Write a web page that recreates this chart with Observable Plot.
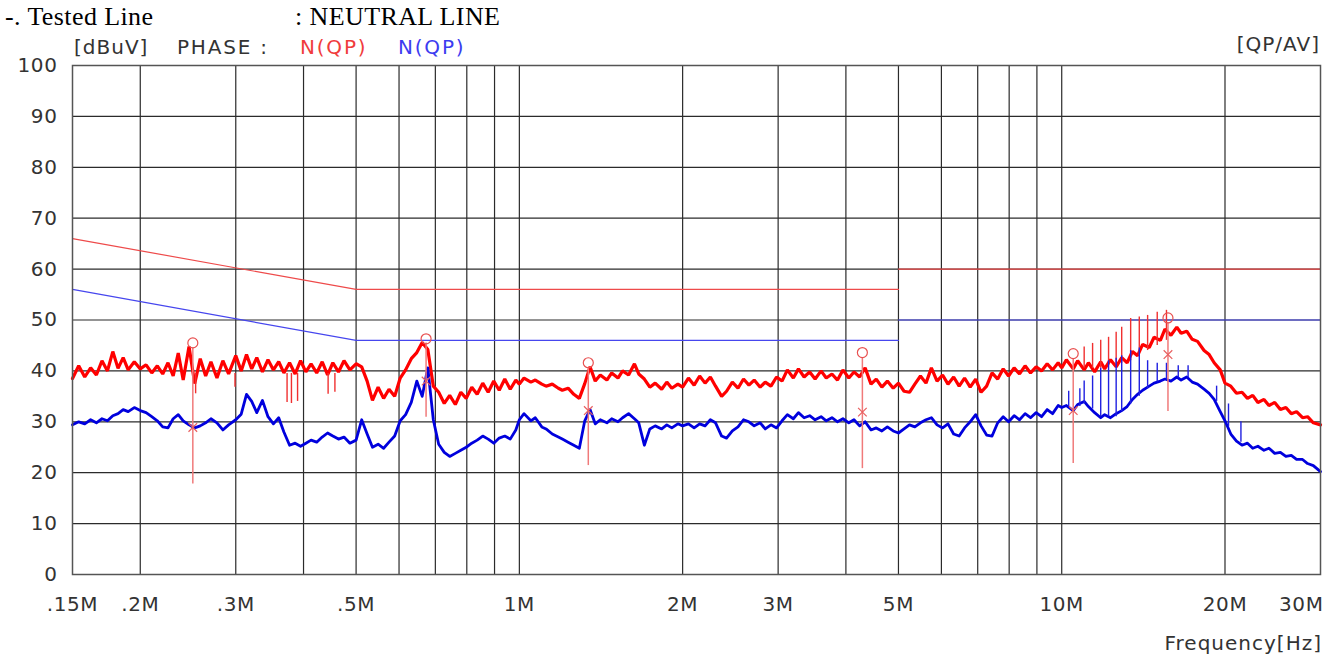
<!DOCTYPE html>
<html><head><meta charset="utf-8">
<script src="https://cdn.jsdelivr.net/npm/d3@7"></script>
<script src="https://cdn.jsdelivr.net/npm/@observablehq/plot@0.6"></script>
<style>
html,body{margin:0;padding:0;background:#fff;width:1338px;height:659px;overflow:hidden;}
#wrap{position:relative;width:1338px;height:659px;}
#chart{position:absolute;left:0;top:0;}
.lbl{position:absolute;white-space:nowrap;line-height:1;}
.serif{font-family:"Liberation Serif","Times New Roman",serif;font-size:26px;color:#000;letter-spacing:0.4px;}
.sans{font-family:"DejaVu Sans",sans-serif;font-size:20px;color:#333;letter-spacing:1px;}
.wide{letter-spacing:1.8px;}
</style></head>
<body><div id="wrap">
<div id="chart"></div>
<div class="lbl serif" style="left:5px;top:4px">-. Tested Line</div>
<div class="lbl serif" style="left:295px;top:4px">: NEUTRAL LINE</div>
<div class="lbl sans" style="left:74px;top:37px">[dBuV]</div>
<div class="lbl sans wide" style="left:177px;top:37px">PHASE :</div>
<div class="lbl sans wide" style="left:300px;top:37px;color:#f03c3c">N(QP)</div>
<div class="lbl sans wide" style="left:398px;top:37px;color:#3c3cf0">N(QP)</div>
<div class="lbl sans" style="right:18px;top:34px">[QP/AV]</div>
<div class="lbl sans" style="right:16px;top:633px">Frequency[Hz]</div>
</div>
<script>
// ---- axis definitions ----
const xTickMHz = [0.15, 0.2, 0.3, 0.5, 0.7, 1, 2, 3, 5, 7, 10, 20, 30];
const xTickLabel = [".15M", ".2M", ".3M", ".5M", ".7M", "1M", "2M", "3M", "5M", "7M", "10M", "20M", "30M"];
const xGridMHz = [0.2, 0.3, 0.4, 0.5, 0.6, 0.7, 0.8, 0.9, 1, 2, 3, 4, 5, 6, 7, 8, 9, 10, 20];
const yTicks = [0, 10, 20, 30, 40, 50, 60, 70, 80, 90, 100];
const yGrid = [10, 20, 30, 40, 50, 60, 70, 80, 90];

// ---- limit lines (dBuV) ----
const qpLimitFreq = [0.15, 0.5, 5];
const qpLimitVal = [66, 56, 56];
const qpLimitFreq2 = [5, 30];
const qpLimitVal2 = [60, 60];
const avLimitFreq = [0.15, 0.5, 5];
const avLimitVal = [56, 46, 46];
const avLimitFreq2 = [5, 30];
const avLimitVal2 = [50, 50];

// ---- sweep frequencies (MHz) ----
const freqMHz = [
  0.150,0.154,0.158,0.162,0.166,0.170,0.174,0.178,0.182,0.186,0.190,0.195,0.200,
  0.205,0.210,0.215,0.220,0.225,0.230,0.235,0.240,0.246,0.252,0.258,0.264,0.270,0.277,0.284,0.291,0.300,
  0.307,0.314,0.321,0.328,0.336,0.344,0.352,0.360,0.368,0.377,0.386,0.395,0.404,0.413,0.423,0.433,0.443,0.453,0.464,0.475,0.487,0.500,
  0.512,0.524,0.536,0.549,0.562,0.575,0.589,0.603,0.617,0.632,0.647,0.662,0.678,0.694,0.710,0.727,0.744,0.762,0.780,0.798,0.817,0.836,0.856,0.876,0.897,0.918,0.940,0.962,0.985,1.000,
  1.02,1.05,1.07,1.10,1.12,1.15,1.18,1.20,1.23,1.26,1.29,1.32,1.35,1.38,1.41,1.45,1.48,1.52,1.55,1.59,1.63,1.66,1.70,1.74,1.78,1.83,1.87,1.91,1.96,2.00,
  2.05,2.10,2.15,2.20,2.25,2.30,2.36,2.41,2.47,2.53,2.59,2.65,2.71,2.78,2.84,2.91,2.98,3.05,3.12,3.20,3.27,3.35,3.43,3.51,3.60,3.68,3.77,3.86,3.95,4.05,4.14,4.24,4.34,4.45,4.55,4.66,4.77,4.89,5.00,
  5.12,5.24,5.36,5.49,5.62,5.75,5.89,6.03,6.17,6.32,6.47,6.62,6.78,6.94,7.10,7.27,7.44,7.62,7.80,7.98,8.17,8.36,8.56,8.76,8.97,9.18,9.40,9.62,9.85,10.0,
  10.2,10.5,10.7,11.0,11.2,11.5,11.8,12.0,12.3,12.6,12.9,13.2,13.5,13.8,14.1,14.5,14.8,15.2,15.5,15.9,16.3,16.6,17.0,17.4,17.8,18.3,18.7,19.1,19.6,20.0,20.5,21.0,21.5,22.0,22.5,23.0,23.6,24.1,24.7,25.3,25.9,26.5,27.1,27.8,28.4,29.1,30.0
];

// ---- red trace (dBuV) ----
const redTrace = [
  38.5,41.0,38.8,40.6,39.2,42.0,40.0,43.8,40.5,42.6,40.2,41.8,40.4,
  41.2,39.6,41.0,39.4,41.6,39.0,43.5,38.2,44.8,37.5,42.4,39.0,41.8,38.6,42.0,39.4,43.0,
  40.0,43.2,40.4,42.6,39.8,42.2,40.2,41.8,39.6,41.6,39.4,42.0,39.8,41.4,39.6,41.8,39.2,41.6,39.8,42.0,40.2,41.4,
  40.8,38.0,34.2,36.8,34.6,36.4,35.0,38.6,40.2,42.4,43.6,45.6,44.2,37.0,35.8,33.6,35.2,33.4,35.8,34.6,36.8,35.4,37.6,35.8,38.0,36.2,38.4,36.4,38.2,37.4,
  38.6,37.8,38.2,37.4,37.0,37.4,36.6,36.2,36.6,35.4,34.6,37.5,40.8,38.0,39.2,38.2,39.6,38.6,40.0,39.2,41.4,39.4,38.4,36.8,37.6,36.4,37.8,36.6,37.4,36.8,
  38.6,37.2,39.0,37.6,38.8,37.0,35.0,36.0,37.8,36.6,38.4,37.2,38.2,36.8,37.8,37.0,38.8,38.0,40.2,38.6,40.4,38.8,39.8,38.4,40.0,38.6,39.4,38.2,40.2,38.6,39.8,38.8,40.6,37.4,38.4,36.8,38.0,36.6,37.6,
  36.0,35.8,37.4,39.0,37.6,40.6,38.0,39.2,37.4,38.8,37.0,38.6,36.8,38.4,35.8,37.0,39.6,38.4,40.4,39.0,40.6,39.4,41.0,39.6,40.8,40.0,41.4,40.2,41.6,40.6,
  42.2,40.4,42.0,40.2,41.6,39.8,41.8,40.4,42.2,40.8,42.6,41.6,43.8,43.0,45.2,44.6,46.6,46.0,48.2,47.0,48.6,47.4,47.8,46.2,45.8,44.0,43.2,41.6,40.2,37.6,37.0,35.6,35.8,34.6,35.2,33.8,34.4,33.2,33.8,32.4,32.8,31.6,32.0,30.8,31.0,29.8,29.4
];

// ---- blue trace (dBuV) ----
const blueTrace = [
  29.4,30.0,29.6,30.4,29.8,30.6,30.2,31.2,31.6,32.4,32.0,32.8,32.2,
  31.8,31.0,30.2,29.0,28.8,30.6,31.4,30.2,29.4,28.8,29.2,29.8,30.6,29.8,28.4,29.4,30.4,
  31.5,35.4,34.0,31.8,34.2,31.0,29.6,30.8,28.0,25.4,25.8,25.2,25.8,26.4,26.0,27.0,27.8,27.2,26.6,27.0,25.8,26.4,
  30.4,27.6,25.0,25.6,24.8,26.0,27.2,30.2,31.4,33.8,38.0,35.0,40.6,30.4,25.6,24.0,23.2,23.8,24.4,25.0,25.8,26.4,27.2,26.6,25.8,26.8,27.2,26.6,28.4,30.4,
  31.6,30.2,30.8,29.0,28.6,27.6,27.0,26.6,26.0,25.4,24.8,30.2,32.4,29.6,30.4,29.8,30.6,30.0,30.8,31.6,30.6,29.8,25.4,28.6,29.2,28.6,29.4,28.8,29.6,29.2,
  29.6,28.8,29.6,29.2,30.4,29.8,27.2,26.8,28.2,29.0,30.4,30.0,29.2,29.8,28.6,29.4,28.8,30.2,31.4,30.6,31.8,30.8,31.2,30.4,31.0,30.2,30.8,30.0,30.6,29.8,30.4,29.2,30.0,28.4,28.8,28.2,29.0,28.2,27.8,
  28.6,29.4,29.0,29.8,30.4,30.8,29.4,28.8,29.6,27.6,27.2,28.8,30.0,31.4,29.2,27.4,27.2,29.8,31.0,30.0,31.2,30.4,31.6,30.8,31.8,31.0,32.4,31.6,33.2,32.8,
  33.2,32.2,33.4,34.0,33.0,31.8,30.8,31.4,30.8,31.6,32.2,33.0,34.4,35.4,36.2,37.0,37.6,38.0,38.4,38.0,38.8,38.2,38.8,37.8,37.4,36.4,35.6,34.4,32.0,30.2,27.6,26.2,25.4,25.8,24.8,25.2,24.4,24.8,23.8,24.0,23.2,23.4,22.6,22.6,21.8,21.4,20.2
];

// ---- narrow spikes ----
const redSpikeFreq = [0.253, 0.299, 0.373, 0.380, 0.390, 0.444, 0.457, 11.0, 11.4, 11.8, 12.2, 12.6, 12.9, 13.4, 13.9, 14.4, 15.0, 15.6];
const redSpikeLow  = [35.5, 36.8, 33.8, 33.6, 34.0, 35.4, 35.8, 40.5, 40.5, 40.5, 41.0, 41.0, 41.5, 42.0, 43.0, 44.0, 45.0, 46.0];
const redSpikeHigh = [39.5, 39.5, 39.5, 39.5, 39.5, 39.5, 39.5, 44.7, 45.4, 46.0, 46.6, 47.6, 48.6, 50.3, 50.6, 50.9, 51.5, 51.9];
const blueSpikeFreq = [10.3, 10.8, 11.0, 11.4, 11.8, 12.2, 12.6, 12.9, 13.4, 13.9, 14.4, 15.0, 15.6, 16.4, 17.1, 19.3, 20.3, 21.4];
const blueSpikeLow  = [33.0, 33.0, 33.5, 32.5, 31.0, 31.0, 31.0, 32.0, 33.5, 35.0, 36.5, 37.8, 38.2, 38.6, 38.6, 34.0, 29.0, 26.0];
const blueSpikeHigh = [36.0, 36.5, 38.0, 39.0, 40.5, 42.0, 42.5, 43.0, 44.0, 44.5, 42.0, 41.5, 41.5, 41.0, 41.0, 37.0, 33.5, 30.0];

// ---- peak markers ----
const peakFreq = [0.25, 0.673, 1.34, 4.29, 10.5, 15.7];
const peakQP = [45.5, 46.3, 41.6, 43.6, 43.4, 50.4];
const peakAV = [28.9, 38.0, 32.2, 31.9, 32.2, 43.2];
const peakLineTop = [44.5, 45.5, 40.6, 42.6, 42.4, 49.4];
const peakLineBottom = [17.8, 30.9, 21.4, 20.8, 21.8, 32.0];

// ---- build tables ----
const n = Math.min(freqMHz.length, redTrace.length, blueTrace.length);
const trace = d3.range(n).map(i => ({f: freqMHz[i], red: redTrace[i], blue: blueTrace[i]}));
const seg = (fs, vs, k) => fs.map((f, i) => ({f, v: vs[i], k}));
const qpLim = [...seg(qpLimitFreq, qpLimitVal, "a"), ...seg(qpLimitFreq2, qpLimitVal2, "b")];
const avLim = [...seg(avLimitFreq, avLimitVal, "a"), ...seg(avLimitFreq2, avLimitVal2, "b")];
const redSpikes = redSpikeFreq.map((f, i) => ({f, lo: redSpikeLow[i], hi: redSpikeHigh[i]}));
const blueSpikes = blueSpikeFreq.map((f, i) => ({f, lo: blueSpikeLow[i], hi: blueSpikeHigh[i]}));
const peaks = peakFreq.map((f, i) => ({f, qp: peakQP[i], av: peakAV[i], top: peakLineTop[i], bot: peakLineBottom[i]}));
const labelOf = new Map(xTickMHz.map((d, i) => [d, xTickLabel[i]]));

const chart = Plot.plot({
  width: 1338, height: 659,
  marginLeft: 72, marginRight: 18, marginTop: 65, marginBottom: 85,
  style: {fontFamily: "DejaVu Sans, sans-serif", fontSize: "20px", color: "#333", background: "#fff", overflow: "visible"},
  x: {type: "log", domain: [0.15, 30]},
  y: {domain: [0, 100]},
  marks: [
    Plot.ruleX(xGridMHz, {stroke: "#2b2b2b", strokeWidth: 1.2}),
    Plot.ruleY(yGrid, {stroke: "#2b2b2b", strokeWidth: 1.2}),
    Plot.line(qpLim, {x: "f", y: "v", z: "k", stroke: "#ee4a4a", strokeWidth: 1.2}),
    Plot.line(avLim, {x: "f", y: "v", z: "k", stroke: "#4646ee", strokeWidth: 1.2}),
    Plot.line(trace, {x: "f", y: "red", stroke: "#ff0000", strokeWidth: 3.2, strokeLinejoin: "miter"}),
    Plot.ruleX(redSpikes, {x: "f", y1: "lo", y2: "hi", stroke: "#f03030", strokeWidth: 1.4}),
    Plot.line(trace, {x: "f", y: "blue", stroke: "#0000dd", strokeWidth: 2.8}),
    Plot.ruleX(blueSpikes, {x: "f", y1: "lo", y2: "hi", stroke: "#2020e0", strokeWidth: 1.4}),
    Plot.ruleX(peaks, {x: "f", y1: "bot", y2: "top", stroke: "#f07a7a", strokeWidth: 1.5}),
    Plot.dot(peaks, {x: "f", y: "qp", r: 5, stroke: "#e85050", fill: "none", strokeWidth: 1.2}),
    Plot.dot(peaks, {x: "f", y: "av", r: 4, symbol: "times", stroke: "#e86060", strokeWidth: 1.2}),
    Plot.axisX({ticks: xTickMHz, tickFormat: d => labelOf.get(d), tickSize: 0, tickPadding: 22, label: null}),
    Plot.axisY({ticks: yTicks, tickSize: 0, tickPadding: 15, label: null}),
    Plot.frame({stroke: "#555", strokeWidth: 1.5})
  ]
});
chart.querySelectorAll("text").forEach(t => { t.style.letterSpacing = "0.6px"; });
// the last frequency label sits inside the frame, right-aligned to the edge
const xLabels = chart.querySelectorAll('[aria-label="x-axis tick label"] text');
if (xLabels.length) {
  const last = xLabels[xLabels.length - 1];
  last.setAttribute("text-anchor", "end");
  last.setAttribute("dx", "3");
}
document.getElementById("chart").appendChild(chart);
</script>
</body></html>
